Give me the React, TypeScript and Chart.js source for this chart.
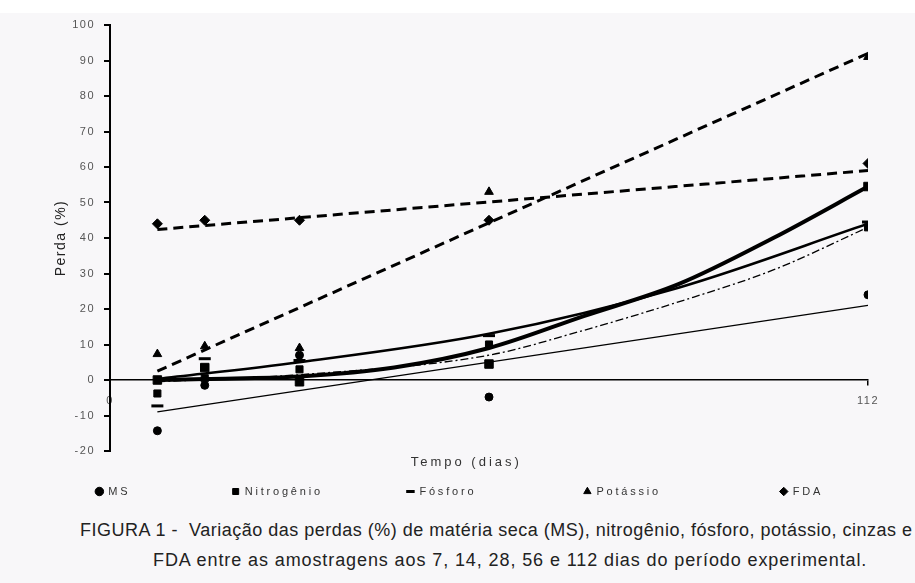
import React, { useEffect, useRef } from "react";
import { Chart, registerables } from "chart.js";

Chart.register(...registerables);

// ---- data ----
const days = [7, 14, 28, 56, 112];
const msValues = [-14.3, -1.5, 7, -4.8, 24];
const nitrogenioValues = [0, 3.5, -0.5, 4.5, 54.5];
const fosforoValues = [-7.3, 6, 5.5, 12.5, 44.5];
const potassioValues = [7.3, 9.5, 9, 53, 91];
const fdaValues = [44, 45, 45, 45, 61];
const cinzasValues = [-3.8, 0.5, 3, 10, 43];

// trend lines
const linearDays = [7, 112];
const fdaTrend = [42.4, 59];
const potassioTrend = [2.5, 92];
const msTrend = [-9, 21];
const nitrogenioTrendDays = [7, 14, 28, 42, 56, 70, 84, 98, 112];
const nitrogenioTrend = [0, 0.3, 1, 3.5, 9, 18, 27, 40, 54.5];
const fosforoTrendDays = [7, 28, 56, 84, 112];
const fosforoTrend = [0.3, 5, 13, 26, 44];
const cinzasTrendDays = [7, 28, 56, 70, 84, 98, 112];
const cinzasTrend = [-0.5, 1.5, 7, 14, 22, 31, 43];

const xTickValues = [0, 112];
const legendNames = ["MS", "Nitrogênio", "Fósforo", "Potássio", "FDA"];
const xTitle = "Tempo (dias)";
const yTitle = "Perda (%)";

const FONT = '"Liberation Sans", Arial, sans-serif';
const BG = "#f8f7f9";

const pts = (xs: number[], ys: number[]) => xs.map((x, i) => ({ x, y: ys[i] }));

// layout constants for the legend item starts
const legendStarts = [92, 233, 412, 592, 790];
const LEG_PAD = 8;
const LEG_BOX = 7;
const LEG_FONT = 11;
const LEG_SPACING = "2.8px";

export default function App() {
  const ref = useRef<HTMLCanvasElement | null>(null);

  useEffect(() => {
    if (!ref.current) return;
    const spacing = {
      id: "spacing",
      beforeUpdate(chart: any) {
        chart.ctx.letterSpacing = "1.5px";
      },
      beforeDraw(chart: any) {
        chart.ctx.letterSpacing = "1.5px";
      },
      afterInit(chart: any) {
        const lg = chart.legend;
        if (!lg || lg.__wrapped) return;
        const wrap = (name: string) => {
          const orig = lg[name].bind(lg);
          lg[name] = (...a: any[]) => {
            const c = chart.ctx;
            const prev = c.letterSpacing;
            c.letterSpacing = LEG_SPACING;
            try {
              return orig(...a);
            } finally {
              c.letterSpacing = prev;
            }
          };
        };
        wrap("fit");
        wrap("draw");
        lg.__wrapped = true;
      },
      afterDraw(chart: any) {
        const c = chart.ctx;
        const xs = chart.scales.x2;
        c.save();
        c.letterSpacing = "3px";
        c.font = `13px ${FONT}`;
        c.fillStyle = "#333";
        c.textAlign = "center";
        c.textBaseline = "middle";
        c.fillText(xTitle, chart.chartArea.left + (chart.chartArea.right - chart.chartArea.left) * 0.47, xs.top + 11);
        c.restore();
      },
    };

    const marker = (label: string, ys: number[], style: string, r: number, bw = 1) => ({
      type: "line" as const,
      label,
      data: pts(days, ys),
      showLine: false,
      pointStyle: style,
      pointRadius: r,
      pointHoverRadius: r,
      pointBackgroundColor: "#000",
      pointBorderColor: "#000",
      pointBorderWidth: bw,
      backgroundColor: "#000",
      borderColor: "#000",
      borderWidth: 2,
    });
    const trend = (label: string, xs: number[], ys: number[], width: number, dash: number[], tension = 0) => ({
      type: "line" as const,
      label,
      data: pts(xs, ys),
      borderColor: "#000",
      backgroundColor: "#000",
      borderWidth: width,
      borderDash: dash,
      pointRadius: 0,
      tension,
      cubicInterpolationMode: "monotone" as const,
      fill: false,
    });

    const chart = new Chart(ref.current, {
      type: "line",
      data: {
        datasets: [
          marker("MS", msValues, "circle", 4),
          marker("Nitrogênio", nitrogenioValues, "rect", 6),
          marker("Fósforo", fosforoValues, "line", 6, 3),
          marker("Potássio", potassioValues, "triangle", 5),
          marker("FDA", fdaValues, "rectRot", 5),
          marker("Cinzas", cinzasValues, "rect", 5),
          trend("t-fda", linearDays, fdaTrend, 3, [10, 6]),
          trend("t-k", linearDays, potassioTrend, 3, [10, 6]),
          trend("t-ms", linearDays, msTrend, 1.3, []),
          trend("t-n", nitrogenioTrendDays, nitrogenioTrend, 4, [], 0.4),
          trend("t-p", fosforoTrendDays, fosforoTrend, 2.5, [], 0.4),
          trend("t-c", cinzasTrendDays, cinzasTrend, 1.3, [8, 3, 2, 3], 0.4),
        ],
      },
      options: {
        responsive: false,
        animation: false,
        layout: { padding: { left: 4, right: 0, top: 25, bottom: 8 } },
        plugins: {
          tooltip: { enabled: false },
          legend: {
            position: "bottom",
            labels: {
              usePointStyle: true,
              boxWidth: LEG_BOX,
              boxHeight: 6,
              padding: LEG_PAD,
              color: "#333",
              font: { size: LEG_FONT, family: FONT },
              generateLabels(ch: any) {
                const base = Chart.defaults.plugins.legend.labels.generateLabels(ch).filter((it: any) =>
                  legendNames.includes(it.text)
                );
                const ctx = ch.ctx;
                ctx.save();
                ctx.font = `${LEG_FONT}px ${FONT}`;
                ctx.letterSpacing = LEG_SPACING;
                base.forEach((it: any, i: number) => {
                  if (i < base.length - 1) {
                    const target = legendStarts[i + 1] - legendStarts[i] - LEG_BOX - LEG_FONT / 2 - LEG_PAD;
                    let t = it.text;
                    let guard = 0;
                    while (ctx.measureText(t + " ").width <= target && guard < 200) {
                      t += " ";
                      guard++;
                    }
                    it.text = t;
                  }
                });
                ctx.restore();
                return base;
              },
            },
          },
        },
        scales: {
          x: {
            type: "linear",
            min: 0,
            max: 112,
            position: { y: 0 } as any,
            afterBuildTicks: (s: any) => {
              s.ticks = xTickValues.map((v) => ({ value: v }));
            },
            ticks: {
              color: "#555",
              font: { size: 11, family: FONT },
              padding: 9,
              maxRotation: 0,
              autoSkip: false,
            },
            grid: { drawOnChartArea: false, drawTicks: true, tickLength: 5, color: "#000", lineWidth: 1.5 },
            border: { display: true, color: "#000", width: 1.5 },
          },
          x2: {
            type: "linear",
            position: "bottom",
            display: true,
            ticks: { display: false },
            grid: { display: false },
            border: { display: false },
            afterFit: (s: any) => {
              s.height = 27;
            },
          },
          y: {
            min: -20,
            max: 100,
            ticks: { stepSize: 10, color: "#555", font: { size: 11, family: FONT }, padding: 9 },
            grid: { drawOnChartArea: false, drawTicks: true, tickLength: 6, color: "#000", lineWidth: 2 },
            border: { display: true, color: "#000", width: 2 },
            title: {
              display: true,
              text: yTitle,
              color: "#222",
              font: { size: 14, family: FONT },
              padding: { top: 49, bottom: 0 },
            },
            afterFit: (s: any) => {
              s.width = 106;
            },
          },
          y2: {
            position: "right",
            display: true,
            ticks: { display: false },
            grid: { display: false },
            border: { display: false },
            afterFit: (s: any) => {
              s.width = 47;
            },
          },
        },
      } as any,
      plugins: [spacing],
    });
    return () => chart.destroy();
  }, []);

  const cap = {
    position: "absolute" as const,
    whiteSpace: "nowrap" as const,
    fontFamily: FONT,
    fontSize: 18,
    lineHeight: "22px",
    color: "#222",
  };

  return (
    <div style={{ position: "absolute", left: 0, top: 0, width: 915, height: 583, overflow: "hidden", background: "#fff" }}>
      <div style={{ position: "absolute", left: 0, top: 13, width: 915, height: 570, background: BG }} />
      <canvas ref={ref} width={915} height={515} style={{ position: "absolute", left: 0, top: 0, width: 915, height: 515 }} />
      <div style={{ ...cap, left: 80, top: 519, letterSpacing: "0.5px" }}>
        FIGURA 1 -&nbsp; Variação das perdas (%) de matéria seca (MS), nitrogênio, fósforo, potássio, cinzas e
      </div>
      <div style={{ ...cap, left: 153, top: 549, letterSpacing: "0.9px" }}>
        FDA entre as amostragens aos 7, 14, 28, 56 e 112 dias do período experimental.
      </div>
    </div>
  );
}
